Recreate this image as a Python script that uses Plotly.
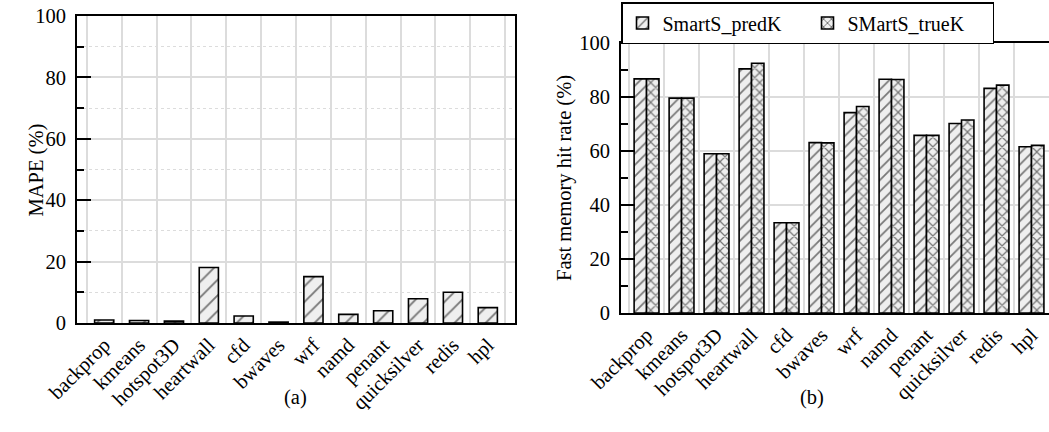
import plotly.graph_objects as go

categories = ["backprop", "kmeans", "hotspot3D", "heartwall", "cfd", "bwaves",
              "wrf", "namd", "penant", "quicksilver", "redis", "hpl"]
mape = [1.0, 0.8, 0.6, 18.1, 2.3, 0.3, 15.1, 2.8, 4.0, 7.9, 10.0, 5.0]
pred_k = [86.7, 79.6, 59.0, 90.4, 33.4, 63.1, 74.2, 86.6, 65.8, 70.2, 83.2, 61.6]
true_k = [86.7, 79.6, 59.0, 92.5, 33.4, 63.0, 76.5, 86.5, 65.8, 71.5, 84.4, 62.1]
y_ticks = [0, 20, 40, 60, 80, 100]

W, H = 1049, 432
FONT = "Liberation Serif"
FILL = "#efefef"
GRID = "#dcdcdc"
FS = 20.5

def px_x(p):
    return p / W

def px_y(p):
    return 1 - p / H

fig = go.Figure()

fig.add_trace(go.Bar(
    x=categories, y=mape, xaxis="x", yaxis="y", showlegend=False, width=0.55,
    marker=dict(color=FILL, line=dict(color="black", width=1.6),
                pattern=dict(shape="/", fgcolor="black", bgcolor=FILL, size=11, solidity=0.17)),
))
fig.add_trace(go.Bar(
    x=categories, y=pred_k, xaxis="x2", yaxis="y2", name="SmartS_predK",
    marker=dict(color=FILL, line=dict(color="black", width=1.6),
                pattern=dict(shape="/", fgcolor="black", bgcolor=FILL, size=8, solidity=0.22)),
))
fig.add_trace(go.Bar(
    x=categories, y=true_k, xaxis="x2", yaxis="y2", name="SMartS_trueK",
    marker=dict(color=FILL, line=dict(color="black", width=1.6),
                pattern=dict(shape="x", fgcolor="black", bgcolor=FILL, size=7, solidity=0.32)),
))

xcommon = dict(type="category", tickson="boundaries", showgrid=True, gridcolor=GRID, gridwidth=1.5,
               ticks="", tickangle=-45, tickfont=dict(size=FS, family=FONT, color="black"),
               showline=True, linecolor="black", linewidth=2, mirror=True, automargin=False)
ycommon = dict(range=[0, 100], tickvals=y_ticks, showgrid=True, gridcolor=GRID, gridwidth=1.5,
               ticks="inside", ticklen=14, tickwidth=1.5, tickcolor="black",
               tickfont=dict(size=FS, family=FONT, color="black"), ticklabelstandoff=5,
               showline=True, linecolor="black", linewidth=2, mirror=True, zeroline=False,
               automargin=False)

fig.update_layout(
    width=W, height=H,
    margin=dict(l=0, r=0, t=0, b=0),
    paper_bgcolor="white", plot_bgcolor="white",
    font=dict(family=FONT, size=FS, color="black"),
    barmode="group", bargap=0.29, bargroupgap=0.0,
    xaxis=dict(domain=[px_x(77), px_x(515)], range=[-0.78, 11.78], anchor="y", **xcommon),
    yaxis=dict(domain=[px_y(323), px_y(16)], anchor="x",
               minor=dict(dtick=10, ticks="inside", ticklen=7, tickcolor="black", showgrid=True,
                          gridcolor=GRID, griddash="dot", gridwidth=1),
               **ycommon),
    xaxis2=dict(domain=[px_x(621), 1.0], range=[-0.73, 11.5], anchor="y2", **xcommon),
    yaxis2=dict(domain=[px_y(313), px_y(43)], anchor="x2",
                minor=dict(dtick=10, ticks="inside", ticklen=7, tickcolor="black", showgrid=False),
                **ycommon),
    legend=dict(orientation="h", x=px_x(621), y=px_y(44), xanchor="left", yanchor="bottom",
                bordercolor="black", borderwidth=1.5, bgcolor="white",
                font=dict(size=20, family=FONT, color="black"),
                entrywidth=140, tracegroupgap=0, itemwidth=30),
    annotations=[
        dict(text="MAPE (%)", x=px_x(22), y=px_y(170), xref="paper", yref="paper",
             textangle=-90, showarrow=False, font=dict(size=FS)),
        dict(text="Fast memory hit rate (%)", x=px_x(565), y=px_y(178), xref="paper", yref="paper",
             textangle=-90, showarrow=False, font=dict(size=FS)),
        dict(text="(a)", x=px_x(282), y=px_y(411), xref="paper", yref="paper",
             showarrow=False, font=dict(size=FS)),
        dict(text="(b)", x=px_x(826), y=px_y(411), xref="paper", yref="paper",
             showarrow=False, font=dict(size=FS)),
    ],
)

fig.write_html("out.html", config={"displayModeBar": False},
               post_script="document.body.style.margin='0px';")
